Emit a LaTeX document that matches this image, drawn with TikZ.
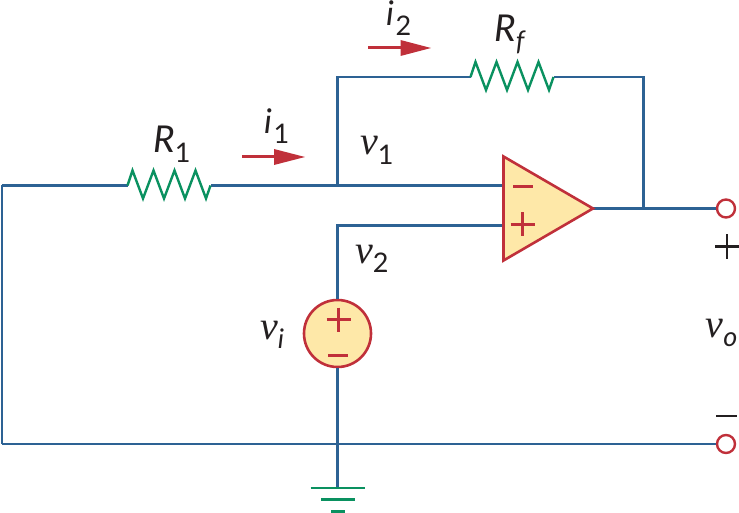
\documentclass[tikz,border=0pt]{standalone}
\usepackage{fontspec}
\setmainfont{Lato}
\newfontfamily\voltfont{Liberation Serif Italic}
\usepackage{tikz}
\definecolor{wireblue}{RGB}{45,98,148}
\definecolor{ampred}{RGB}{192,48,58}
\definecolor{ampyellow}{RGB}{254,232,168}
\definecolor{resgreen}{RGB}{10,145,96}
\definecolor{inkblack}{RGB}{35,31,32}
\newcommand{\lowsub}[1]{\raisebox{-9.5pt}{\fontsize{27}{27}\selectfont #1}}
\newcommand{\curlab}[2]{\fontsize{37}{37}\selectfont\textit{#1}\lowsub{#2}}
\newcommand{\ilab}[2]{\fontsize{34}{34}\selectfont\textit{#1}\kern1.5pt\lowsub{#2}}
\newcommand{\voltlab}[2]{\fontsize{40}{40}\selectfont{\voltfont #1}\lowsub{#2}}
\newcommand{\zigpath}{-- ++(5,-15) -- ++(10.5,28) -- ++(10.5,-28) -- ++(10.5,28) -- ++(10.5,-28)
  -- ++(10.5,28) -- ++(10.5,-28) -- ++(10.5,28) -- ++(4.5,-13)}
\tikzset{
  wire/.style={draw=wireblue,line width=2.4pt},
  res/.style={draw=resgreen,line width=2.4pt,line join=miter},
  amp/.style={draw=ampred,line width=2.6pt,fill=ampyellow},
  sign/.style={draw=ampred,line width=2.4pt},
  blacksign/.style={draw=inkblack,line width=2.4pt},
  gnd/.style={draw=resgreen,line width=2.4pt},
  cur/.style={draw=ampred,fill=ampred,line width=3pt},
  lab/.style={anchor=base west,inner sep=0pt,text=inkblack},
  term/.style={circle,draw=ampred,fill=white,line width=2.4pt,minimum size=18pt,inner sep=0pt},
  src/.style={circle,draw=ampred,fill=ampyellow,line width=2.6pt,minimum size=67pt,inner sep=0pt}
}
\begin{document}
\begin{tikzpicture}[x=1pt,y=-1pt]
\useasboundingbox (0,0) rectangle (739,513);
% junctions
\coordinate (lefttop) at (2,185.5);
\coordinate (leftbot) at (2,444);
\coordinate (r1a) at (127.5,185.5);
\coordinate (r1b) at (211,185.5);
\coordinate (rfa) at (470.5,77);
\coordinate (rfb) at (554,77);
\coordinate (ninv) at (503.5,185.5);
\coordinate (pinv) at (503.5,225.5);
\coordinate (ampout) at (593,208.5);
\coordinate (fbtop) at (337.5,77);
\coordinate (fbjoin) at (337.5,185.5);
\coordinate (outtop) at (643.5,77);
\coordinate (outjoin) at (643.5,208.5);
\coordinate (pinvcorner) at (337.5,225.5);
\coordinate (botjoin) at (337.5,444);
\coordinate (gndtop) at (337.5,488);
% parts
\node[term] (vop) at (726,208.5) {};
\node[term] (von) at (726,444) {};
\node[src] (vs) at (337.5,333.5) {};
% wires
\draw[wire] (lefttop) -- (r1a);
\draw[wire] (leftbot) -- (lefttop);
\draw[wire] (r1b) -- (ninv);
\draw[wire] (fbjoin) -- (fbtop) -- (rfa);
\draw[wire] (rfb) -- (outtop) -- (outjoin);
\draw[wire] (ampout) -- (vop);
\draw[wire] (pinv) -- (pinvcorner) -- (vs);
\draw[wire] (vs) -- (botjoin);
\draw[wire] (leftbot) -- (von);
\draw[wire] (botjoin) -- (gndtop);
% resistors
\draw[res] (r1a) \zigpath;
\draw[res] (rfa) \zigpath;
% op amp
\draw[amp] (503.5,156.5) -- (ampout) -- (503.5,260.5) -- cycle;
\draw[sign] (513,186.5) -- (533,186.5);
\draw[sign] (510.5,224.5) -- (534.5,224.5) (522.5,212.5) -- (522.5,236.5);
% source signs
\draw[sign] (326.5,319.5) -- (350.5,319.5) (338.5,307.5) -- (338.5,331.5);
\draw[sign] (328,355.5) -- (348,355.5);
% output signs
\draw[blacksign] (715,246.5) -- (739,246.5) (727,234.5) -- (727,258.5);
\draw[blacksign] (716,416) -- (737,416);
% ground
\draw[gnd] (310.5,488) -- (365,488);
\draw[gnd] (321,499.5) -- (354.5,499.5);
\draw[gnd] (331,511.5) -- (345,511.5);
% currents
\draw[cur] (242,157) -- (274,157);
\fill[ampred] (274,149) -- (305,157) -- (274,165) -- cycle;
\draw[cur] (368,48) -- (400.5,48);
\fill[ampred] (400.5,40) -- (431,48) -- (400.5,56) -- cycle;
% labels
\node[lab] (labrone) at (153,153) {\curlab{R}{1}};
\node[lab] (labrf) at (494,41.5) {\curlab{R}{\textit{f}}};
\node[lab] (labione) at (264,134) {\ilab{i}{1}};
\node[lab] (labitwo) at (386,26) {\ilab{i}{2}};
\node[lab] (labvone) at (360,155) {\voltlab{v}{1}};
\node[lab] (labvtwo) at (355,263) {\voltlab{v}{2}};
\node[lab] (labvi) at (260,339) {\voltlab{v}{\textit{i}}};
\node[lab] (labvo) at (705.5,337) {\voltlab{v}{\textit{o}}};
\end{tikzpicture}
\end{document}
